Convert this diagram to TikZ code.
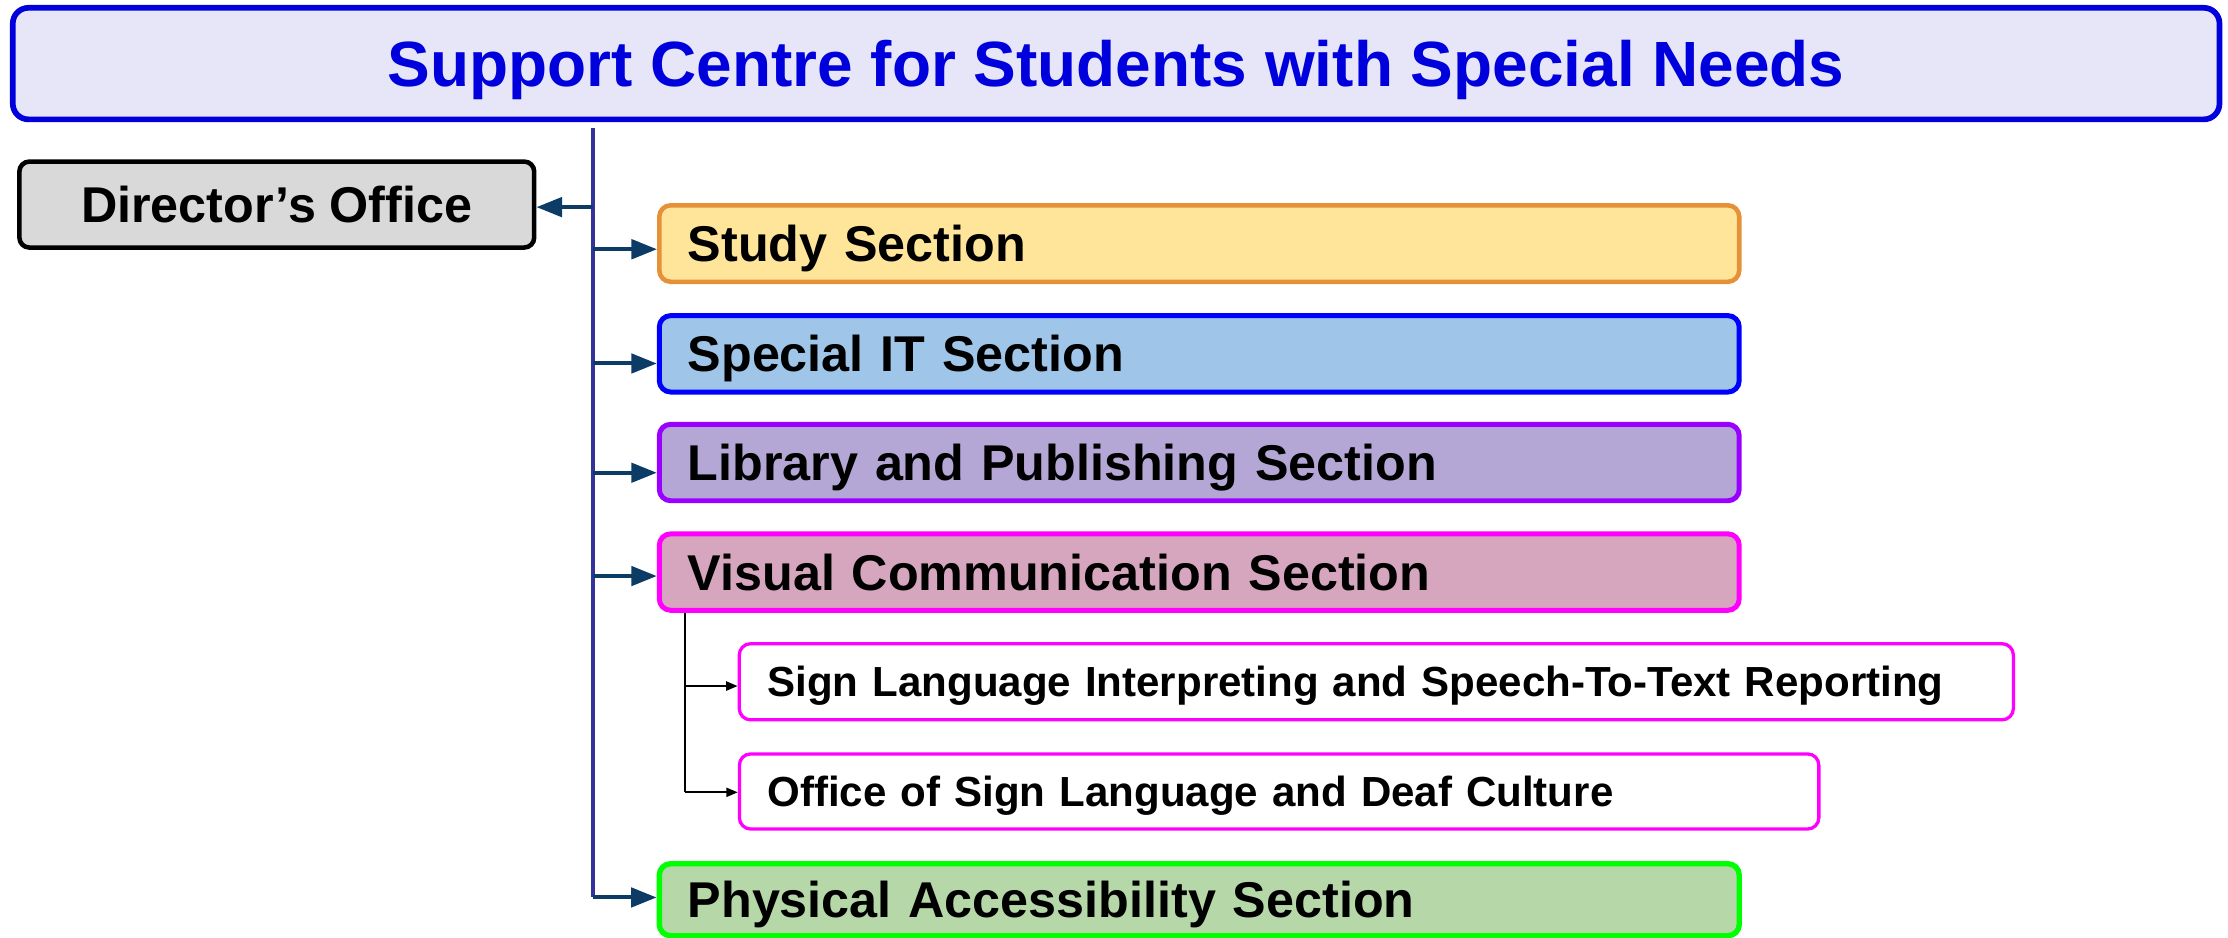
\documentclass[tikz,border=0pt]{standalone}
\usepackage{fontspec}
\setmainfont{Liberation Sans}
\usetikzlibrary{arrows.meta}
\definecolor{titlefill}{HTML}{E6E6F8}
\definecolor{titleblue}{HTML}{0000DD}
\definecolor{dirfill}{HTML}{D9D9D9}
\definecolor{studyfill}{HTML}{FFE599}
\definecolor{studyline}{HTML}{E69138}
\definecolor{itfill}{HTML}{9FC5E8}
\definecolor{itline}{HTML}{0000FF}
\definecolor{libfill}{HTML}{B4A7D6}
\definecolor{libline}{HTML}{9900FF}
\definecolor{visfill}{HTML}{D5A6BD}
\definecolor{visline}{HTML}{FF00FF}
\definecolor{physfill}{HTML}{B6D7A8}
\definecolor{physline}{HTML}{00FF00}
\definecolor{spinecol}{HTML}{333399}
\definecolor{navy}{HTML}{0C3C66}
\tikzset{
  secbox/.style={draw, line width=1.6pt, rounded corners=4pt,
    minimum height=26.9pt, inner xsep=10pt, inner ysep=0pt,
    text width=360pt, align=left, text height=12.67pt, text depth=0pt,
    font=\fontsize{17.7}{20}\selectfont\bfseries},
  subbox/.style={draw=visline, fill=white, line width=1.15pt, rounded corners=4pt,
    inner xsep=9.9pt, inner ysep=0pt, align=left,
    text height=10.67pt, text depth=0pt,
    font=\fontsize{14.8}{17}\selectfont\bfseries},
  navyarrow/.style={draw=navy, line width=1.4pt, -{Triangle[length=9pt,width=6.8pt]}},
  subarrow/.style={draw=black, line width=0.6pt, -{Triangle[length=4pt,width=3.2pt]}}
}
\begin{document}
\begin{tikzpicture}[x=1pt,y=-1pt]
\useasboundingbox (0,0) rectangle (784,330.06);
% title
\node[draw=titleblue, fill=titlefill, line width=2pt, rounded corners=5.5pt,
  minimum width=776.5pt, minimum height=39.25pt, inner sep=0pt,
  text height=16.1pt, text depth=0pt, text=titleblue,
  font=\fontsize{22.5}{26}\selectfont\bfseries] (title) at (392.75,22.375)
  {Support Centre for Students with Special Needs};
% director
\node[draw=black, fill=dirfill, line width=1.6pt, rounded corners=3.5pt,
  minimum width=181.15pt, minimum height=30.25pt, inner sep=0pt,
  text height=12.67pt, text depth=0pt,
  font=\fontsize{17.7}{20}\selectfont\bfseries] (dir) at (97.4,71.98)
  {Director’s Office};
% sections
\node[secbox, draw=studyline, fill=studyfill, line width=1.6pt] (study) at (422,85.7) {Study Section};
\node[secbox, draw=itline, fill=itfill, line width=1.75pt] (it) at (422,124.5) {Special IT Section};
\node[secbox, draw=libline, fill=libfill, line width=1.75pt] (lib) at (422,162.75) {Library and Publishing Section};
\node[secbox, draw=visline, fill=visfill, line width=1.75pt] (vis) at (422,201.3) {Visual Communication Section};
\node[secbox, draw=physline, fill=physfill, line width=1.9pt, minimum height=25.35pt] (phys) at (422,316.6) {Physical Accessibility Section};
% sub sections
\node[subbox, text width=428.55pt, minimum height=26.8pt] (sub1) at (484.3,239.9)
  {Sign Language Interpreting and Speech-To-Text Reporting};
\node[subbox, text width=360.05pt, minimum height=26.45pt] (sub2) at (450.1,278.5)
  {Office of Sign Language and Deaf Culture};
% arrow targets
\coordinate (aD) at ([yshift=-0.9pt]dir.east);
\coordinate (aS) at ([yshift=-2pt]study.west);
\coordinate (aI) at ([yshift=-3.4pt]it.west);
\coordinate (aL) at ([yshift=-3.6pt]lib.west);
\coordinate (aV) at ([yshift=-1.4pt]vis.west);
\coordinate (aP) at ([yshift=0.8pt]phys.west);
\coordinate (spineTop) at (208.5,45);
\coordinate (spineBot) at (spineTop |- aP);
% spine
\draw[spinecol, line width=1.4pt] (spineTop) -- (spineBot);
\draw[navyarrow] (aD -| spineTop) -- (aD);
\draw[navyarrow] (aS -| spineTop) -- (aS);
\draw[navyarrow] (aI -| spineTop) -- (aI);
\draw[navyarrow] (aL -| spineTop) -- (aL);
\draw[navyarrow] (aV -| spineTop) -- (aV);
\draw[navyarrow] (spineBot) -- (aP);
% sub spine
\coordinate (vsTop) at (241,0);
\coordinate (b1) at ([yshift=-1.5pt]sub1.west);
\coordinate (b2) at ([yshift=-0.3pt]sub2.west);
\draw[black, line width=0.6pt] (vsTop |- vis.south) -- (vsTop |- b2);
\draw[subarrow] (vsTop |- b1) -- (b1);
\draw[subarrow] (vsTop |- b2) -- (b2);
\end{tikzpicture}
\end{document}
